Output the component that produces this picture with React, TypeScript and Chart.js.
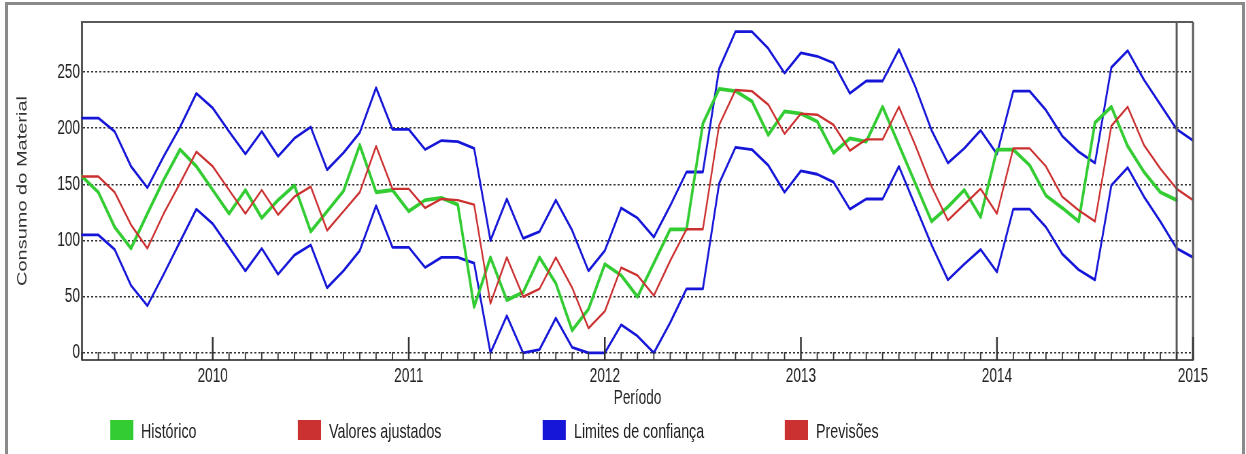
import React, { useEffect, useRef } from "react";
import { Chart, registerables } from "chart.js";

Chart.register(...registerables);

// ---- Period (monthly, May 2009 – Jan 2015) ----
const startYear = 2009;
const startMonth = 5;
const periodCount = 69;
const periods: string[] = Array.from({ length: periodCount }, (_, i) => {
  const t = startMonth - 1 + i;
  const y = startYear + Math.floor(t / 12);
  const m = (t % 12) + 1;
  return `${y}-${String(m).padStart(2, "0")}`;
});

// ---- Series ----
const historico = [
  157, 143, 112, 93, 124, 154, 181, 166, 145, 124, 145, 120,
  136, 149, 108, 126, 144, 185, 143, 145, 126, 136, 138, 132,
  41, 85, 47, 54, 85, 62, 20, 39, 79, 69, 50, 80,
  110, 110, 204, 235, 233, 224, 194, 215, 213, 206, 178, 191,
  188, 219, 185, 151, 117, 130, 145, 121, 181, 181, 167, 140,
  129, 117, 205, 219, 184, 161, 143, 136,
];

const valoresAjustados = [
  157, 157, 143, 114, 93, 124, 151, 179, 166, 145, 124, 145,
  123, 139, 148, 109, 126, 143, 184, 146, 146, 129, 137, 136,
  132, 44, 85, 50, 57, 85, 58, 22, 37, 76, 69, 51,
  82, 110, 110, 203, 234, 233, 221, 195, 213, 212, 203, 180,
  190, 190, 219, 185, 148, 118, 132, 146, 124, 182, 182, 166,
  139, 127, 117, 202, 219, 185, 164, 146,
];

const previsoesStart = 67;
const previsoes = [146, 136];

const limiteSuperior = [
  209, 209, 197, 166, 147, 175, 201, 231, 218, 197, 177, 197,
  175, 191, 201, 163, 178, 196, 236, 199, 199, 181, 189, 188,
  182, 100, 137, 102, 108, 136, 109, 73, 91, 129, 120, 103,
  131, 161, 161, 253, 286, 286, 271, 249, 267, 264, 258, 231,
  242, 242, 270, 237, 198, 169, 182, 198, 177, 233, 233, 216,
  193, 179, 169, 254, 269, 243, 221, 199, 189,
];

const limiteInferior = [
  105, 105, 92, 60, 42, 70, 99, 128, 115, 94, 73, 93,
  70, 87, 96, 58, 73, 91, 131, 94, 94, 76, 85, 85,
  80, 0, 33, 0, 3, 31, 5, 0, 0, 25, 15, 0,
  27, 57, 57, 151, 183, 181, 167, 143, 162, 159, 152, 128,
  137, 137, 166, 131, 96, 65, 79, 92, 72, 128, 128, 112,
  88, 74, 65, 149, 165, 139, 117, 93, 85,
];

const yTicks = [0, 50, 100, 150, 200, 250];
const yMin = -6.3;
const yMax = 294.5;

const legendLabels = ["Histórico", "Valores ajustados", "Limites de confiança", "Previsões"];

// ---- Styles ----
const GREEN = "#33cc33";
const RED = "#cc3131";
const BLUE = "#1616d8";
const legendColors = [GREEN, RED, BLUE, RED];
const legendX = [110, 298, 543, 785]; // final px

const CW = 1832;
const CH = 420;
const S = 1246 / CW;
const FONT = '"Liberation Sans", Arial, Helvetica, sans-serif';

const framePlugin = {
  id: "frame",
  afterDatasetsDraw(chart: any) {
    const { ctx, chartArea: a } = chart;
    const x = chart.scales.x;
    ctx.save();
    ctx.setLineDash([]);
    ctx.strokeStyle = "#5a5a5a";
    ctx.lineWidth = 2;
    ctx.beginPath();
    ctx.moveTo(a.left, a.top);
    ctx.lineTo(a.right, a.top);
    ctx.stroke();
    ctx.lineWidth = 3;
    ctx.beginPath();
    ctx.moveTo(a.right, a.top);
    ctx.lineTo(a.right, a.bottom);
    ctx.stroke();
    const sx = x.getPixelForValue(historico.length - 1);
    ctx.beginPath();
    ctx.moveTo(sx, a.top);
    ctx.lineTo(sx, a.bottom);
    ctx.stroke();
    ctx.strokeStyle = "#333";
    periods.forEach((p, i) => {
      const px = x.getPixelForValue(i);
      const major = p.endsWith("-01");
      ctx.lineWidth = major ? 2.5 : 1.8;
      ctx.beginPath();
      ctx.moveTo(px, a.bottom);
      ctx.lineTo(px, a.bottom - (major ? 23 : 8));
      ctx.stroke();
    });
    ctx.restore();
  },
};

export default function App() {
  const ref = useRef<HTMLCanvasElement>(null);

  useEffect(() => {
    const canvas = ref.current;
    if (!canvas) return;
    Chart.defaults.font.family = FONT;
    const prevData = periods.map((_, i) =>
      i >= previsoesStart && i - previsoesStart < previsoes.length ? previsoes[i - previsoesStart] : null
    );
    const line = (label: string, data: any[], color: string, width: number) => ({
      label,
      data,
      borderColor: color,
      backgroundColor: color,
      borderWidth: width,
      pointRadius: 0,
      tension: 0,
      fill: false,
      borderJoinStyle: "round" as const,
      borderCapStyle: "round" as const,
      spanGaps: false,
    });
    const chart = new Chart(canvas, {
      type: "line",
      data: {
        labels: periods,
        datasets: [
          line("Valores ajustados", valoresAjustados, RED, 2.4),
          line("Previsões", prevData, RED, 2.4),
          line("Histórico", historico, GREEN, 3.8),
          line("Limites de confiança", limiteSuperior, BLUE, 2.8),
          line("Limites de confiança (inferior)", limiteInferior, BLUE, 2.8),
        ],
      },
      options: {
        animation: false,
        responsive: false,
        devicePixelRatio: 1,
        layout: { padding: { left: 0, right: CW - 1193 / S, top: 22, bottom: 0 } },
        plugins: { legend: { display: false }, tooltip: { enabled: false } },
        scales: {
          x: {
            type: "category",
            offset: false,
            grid: { display: false, drawTicks: false },
            border: { display: true, color: "#555", width: 2 },
            ticks: {
              autoSkip: false,
              maxRotation: 0,
              minRotation: 0,
              padding: 4,
              color: "#222",
              font: { size: 20, family: FONT },
              callback: (_v: any, i: number) => (periods[i].endsWith("-01") ? periods[i].slice(0, 4) : ""),
            },
            title: {
              display: true,
              text: "Período",
              color: "#222",
              font: { size: 20, family: FONT },
              padding: { top: 0, bottom: 10 },
            },
            afterFit: (s: any) => {
              s.height = 60;
            },
          },
          y: {
            type: "linear",
            min: yMin,
            max: yMax,
            afterBuildTicks: (s: any) => {
              s.ticks = yTicks.map((v) => ({ value: v }));
            },
            afterFit: (s: any) => {
              s.width = 82 / S;
            },
            grid: { display: true, drawTicks: false, color: "#333", lineWidth: 1.5 },
            border: { display: true, color: "#555", width: 3, dash: [3, 3] },
            ticks: { padding: 3, color: "#222", font: { size: 20, family: FONT } },
            title: {
              display: true,
              text: "Consumo do Material",
              color: "#333",
              font: { size: 20, family: FONT },
              padding: { top: 21.8, bottom: 0 },
            },
          },
        },
      },
      plugins: [framePlugin],
    });
    return () => chart.destroy();
  }, []);

  return (
    <div style={{ position: "fixed", left: 0, top: 0, width: 1246, height: 454, overflow: "hidden", background: "#fff" }}>
      <div
        style={{
          position: "absolute",
          left: 5,
          top: 2,
          width: 1240,
          height: 460,
          border: "3px solid #8a8a8a",
          borderBottom: "none",
          boxSizing: "border-box",
        }}
      />
      <div
        style={{
          position: "absolute",
          left: 0,
          top: 0,
          width: CW,
          height: 454,
          transform: `scaleX(${S})`,
          transformOrigin: "0 0",
        }}
      >
        <canvas ref={ref} width={CW} height={CH} style={{ display: "block" }} />
        {legendLabels.map((lab, i) => (
          <div key={lab}>
            <div
              style={{
                position: "absolute",
                left: legendX[i] / S,
                top: 420,
                width: 23 / S,
                height: 20,
                background: legendColors[i],
              }}
            />
            <div
              style={{
                position: "absolute",
                left: (legendX[i] + 31) / S,
                top: 419,
                height: 24,
                lineHeight: "24px",
                fontFamily: FONT,
                fontSize: 21,
                color: "#222",
                whiteSpace: "nowrap",
              }}
            >
              {lab}
            </div>
          </div>
        ))}
      </div>
    </div>
  );
}
